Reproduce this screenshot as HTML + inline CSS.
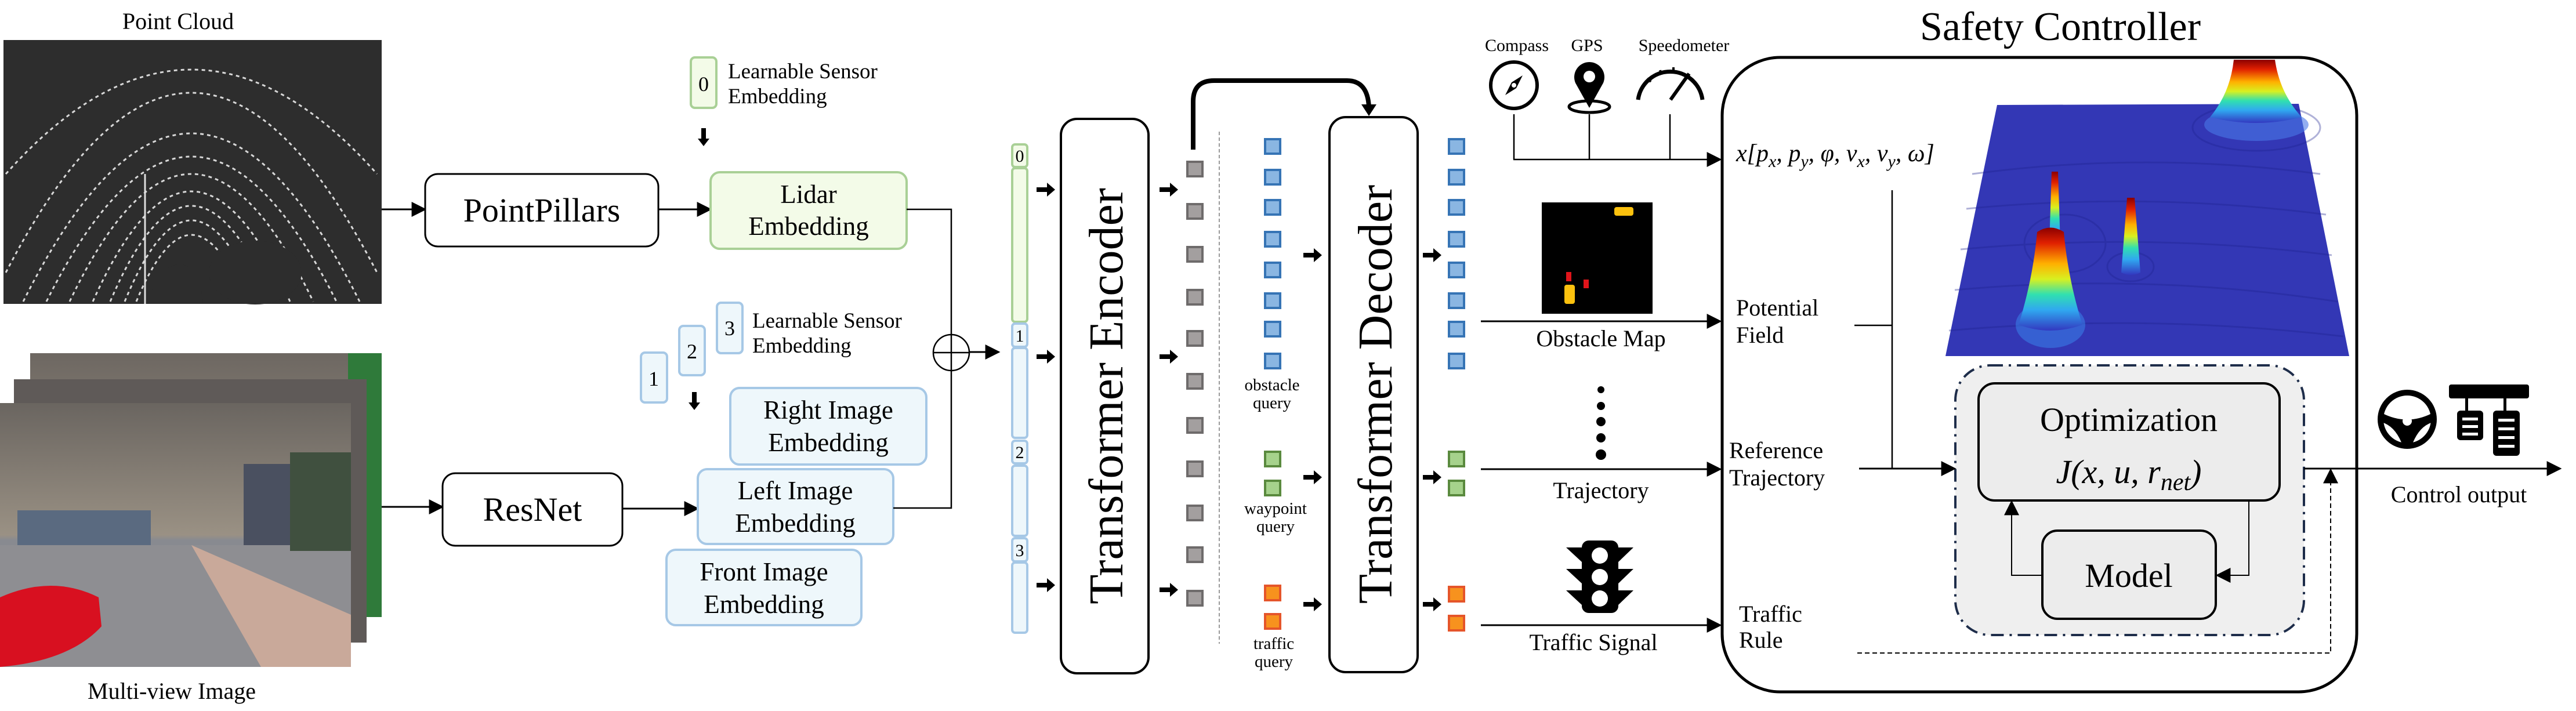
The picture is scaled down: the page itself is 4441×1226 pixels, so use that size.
<!DOCTYPE html>
<html><head><meta charset="utf-8"><style>
html,body{margin:0;padding:0;background:#fff;font-family:"Liberation Serif","Times New Roman",Times,"DejaVu Serif",serif;}
svg{display:block;}
svg text,svg tspan{font-family:"Liberation Serif","Times New Roman",Times,"DejaVu Serif",serif !important;}
</style></head><body>
<svg width="4441" height="1226" viewBox="0 0 4441 1226" xmlns="http://www.w3.org/2000/svg" style="font-family:'Liberation Serif','Times New Roman',Times,'DejaVu Serif',serif">
<defs>
<marker id="ahb" viewBox="0 0 10 10" refX="9" refY="5" markerWidth="26" markerHeight="26" markerUnits="userSpaceOnUse" orient="auto"><path d="M0,0L10,5L0,10z" fill="#000"/></marker>
<linearGradient id="peak" x1="0" y1="0" x2="0" y2="1">
<stop offset="0" stop-color="#8b0000"/><stop offset="0.15" stop-color="#e02000"/><stop offset="0.35" stop-color="#ffb000"/><stop offset="0.5" stop-color="#d8f020"/><stop offset="0.65" stop-color="#30e0b0"/><stop offset="0.8" stop-color="#30a8f0"/><stop offset="1" stop-color="#3238c0"/></linearGradient>
<linearGradient id="sky" x1="0" y1="0" x2="0" y2="1"><stop offset="0" stop-color="#6a6560"/><stop offset="0.5" stop-color="#9a9184"/><stop offset="0.52" stop-color="#888a90"/><stop offset="1" stop-color="#9a9a9e"/></linearGradient>
</defs>

<text x="307" y="50" font-size="40" text-anchor="middle">Point Cloud</text>
<rect x="6" y="69" width="652" height="455" fill="#2d2d2d"/>
<g fill="none" stroke="#d8d8d8" stroke-width="3" stroke-dasharray="6 6">
<path d="M40,520 Q330,-60 620,520"/><path d="M80,520 Q330,20 580,520"/><path d="M120,520 Q330,80 540,520"/><path d="M160,520 Q330,140 500,520"/><path d="M190,520 Q330,190 470,520"/><path d="M215,520 Q330,240 445,520"/><path d="M235,520 Q330,290 425,520"/><path d="M10,470 Q330,-150 650,470"/><path d="M10,300 Q330,-60 650,300"/>
</g>
<path d="M255,524 Q270,460 310,455 Q345,460 350,524z" fill="#2d2d2d"/>
<ellipse cx="440" cy="470" rx="80" ry="55" fill="#2d2d2d"/>
<line x1="250" y1="300" x2="250" y2="524" stroke="#ddd" stroke-width="3"/>

<rect x="52" y="609" width="606" height="455" fill="#7a7068"/>
<rect x="52" y="609" width="606" height="455" fill="url(#sky)" opacity="0.8"/>
<rect x="600" y="609" width="58" height="455" fill="#2f7a3a"/>
<rect x="24" y="654" width="608" height="454" fill="#5f5a58"/>
<rect x="0" y="695" width="605" height="455" fill="url(#sky)"/>
<path d="M0,940 L605,940 L605,1150 L0,1150z" fill="#8e8e92"/>
<path d="M330,940 L605,1060 L605,1150 L450,1150z" fill="#c9a99a"/>
<rect x="420" y="800" width="90" height="140" fill="#4a5060"/>
<rect x="500" y="780" width="105" height="170" fill="#40503f"/>
<rect x="30" y="880" width="230" height="60" fill="#5a6a80"/>
<path d="M0,1030 Q90,990 170,1030 L175,1080 Q120,1140 0,1150z" fill="#d81020"/>
<text x="296" y="1205" font-size="40" text-anchor="middle">Multi-view Image</text>

<line x1="658" y1="361" x2="733" y2="361" stroke="#000" stroke-width="3" marker-end="url(#ahb)"/>
<line x1="658" y1="874" x2="763" y2="874" stroke="#000" stroke-width="3" marker-end="url(#ahb)"/>

<rect x="733" y="300" width="402" height="125" rx="22" fill="#fff" stroke="#000" stroke-width="3"/>
<text x="934" y="382" font-size="58" text-anchor="middle">PointPillars</text>
<rect x="763" y="816" width="310" height="125" rx="22" fill="#fff" stroke="#000" stroke-width="3"/>
<text x="918" y="898" font-size="58" text-anchor="middle">ResNet</text>

<line x1="1135" y1="361" x2="1225" y2="361" stroke="#000" stroke-width="3" marker-end="url(#ahb)"/>
<line x1="1073" y1="877" x2="1203" y2="877" stroke="#000" stroke-width="3" marker-end="url(#ahb)"/>

<rect x="1191" y="99" width="44" height="87" rx="7" fill="#f3fbe8" stroke="#a9d096" stroke-width="4"/>
<text x="1213" y="157" font-size="36" text-anchor="middle">0</text>
<text x="1255" y="135" font-size="37">Learnable Sensor</text>
<text x="1255" y="178" font-size="37">Embedding</text>
<path d="M1209,221 h8 v18 h6 l-10,13 l-10,-13 h6z" fill="#000"/>
<rect x="1225" y="297" width="338" height="132" rx="16" fill="#f3fbe8" stroke="#a9d096" stroke-width="4"/>
<text x="1394" y="350" font-size="45" text-anchor="middle">Lidar</text>
<text x="1394" y="405" font-size="45" text-anchor="middle">Embedding</text>

<rect x="1105" y="608" width="45" height="86" rx="7" fill="#eef7fb" stroke="#a6c8e6" stroke-width="4"/>
<text x="1127" y="665" font-size="36" text-anchor="middle">1</text>
<rect x="1171" y="562" width="44" height="85" rx="7" fill="#eef7fb" stroke="#a6c8e6" stroke-width="4"/>
<text x="1193" y="618" font-size="36" text-anchor="middle">2</text>
<rect x="1236" y="522" width="44" height="87" rx="7" fill="#eef7fb" stroke="#a6c8e6" stroke-width="4"/>
<text x="1258" y="578" font-size="36" text-anchor="middle">3</text>
<text x="1297" y="565" font-size="37">Learnable Sensor</text>
<text x="1297" y="608" font-size="37">Embedding</text>
<path d="M1193,676 h8 v18 h6 l-10,13 l-10,-13 h6z" fill="#000"/>
<rect x="1259" y="669" width="338" height="132" rx="16" fill="#eef7fb" stroke="#a6c8e6" stroke-width="4"/>
<text x="1428" y="722" font-size="45" text-anchor="middle">Right Image</text>
<text x="1428" y="778" font-size="45" text-anchor="middle">Embedding</text>
<rect x="1203" y="809" width="337" height="129" rx="16" fill="#eef7fb" stroke="#a6c8e6" stroke-width="4"/>
<text x="1371" y="861" font-size="45" text-anchor="middle">Left Image</text>
<text x="1371" y="917" font-size="45" text-anchor="middle">Embedding</text>
<rect x="1149" y="948" width="336" height="130" rx="16" fill="#eef7fb" stroke="#a6c8e6" stroke-width="4"/>
<text x="1317" y="1001" font-size="45" text-anchor="middle">Front Image</text>
<text x="1317" y="1057" font-size="45" text-anchor="middle">Embedding</text>

<polyline points="1563,361 1640,361 1640,577" fill="none" stroke="#000" stroke-width="2.5"/>
<polyline points="1540,876 1640,876 1640,639" fill="none" stroke="#000" stroke-width="2.5"/>
<circle cx="1640" cy="608" r="31" fill="none" stroke="#000" stroke-width="2.5"/>
<line x1="1609" y1="608" x2="1671" y2="608" stroke="#000" stroke-width="2.5"/>
<line x1="1640" y1="577" x2="1640" y2="639" stroke="#000" stroke-width="2.5"/>
<line x1="1671" y1="607" x2="1722" y2="607" stroke="#000" stroke-width="3" marker-end="url(#ahb)"/>

<g stroke-width="4">
<rect x="1745" y="249" width="26" height="39" rx="5" fill="#f3fbe8" stroke="#a9d096"/>
<rect x="1745" y="290" width="26" height="265" rx="5" fill="#f3fbe8" stroke="#a9d096"/>
<rect x="1745" y="558" width="26" height="40" rx="5" fill="#eef7fb" stroke="#a6c8e6"/>
<rect x="1745" y="600" width="26" height="155" rx="5" fill="#eef7fb" stroke="#a6c8e6"/>
<rect x="1745" y="760" width="26" height="39" rx="5" fill="#eef7fb" stroke="#a6c8e6"/>
<rect x="1745" y="803" width="26" height="121" rx="5" fill="#eef7fb" stroke="#a6c8e6"/>
<rect x="1745" y="928" width="26" height="40" rx="5" fill="#eef7fb" stroke="#a6c8e6"/>
<rect x="1745" y="970" width="26" height="121" rx="5" fill="#eef7fb" stroke="#a6c8e6"/>
</g>
<g font-size="30" text-anchor="middle"><text x="1758" y="279">0</text><text x="1758" y="589">1</text><text x="1758" y="790">2</text><text x="1758" y="959">3</text></g>

<g fill="#000">
<path d="M0,-4 h18 v-8 l14,12 l-14,12 v-8 h-18z" transform="translate(1787,327)"/>
<path d="M0,-4 h18 v-8 l14,12 l-14,12 v-8 h-18z" transform="translate(1787,615)"/>
<path d="M0,-4 h18 v-8 l14,12 l-14,12 v-8 h-18z" transform="translate(1787,1009)"/>
<path d="M0,-4 h18 v-8 l14,12 l-14,12 v-8 h-18z" transform="translate(1999,327)"/>
<path d="M0,-4 h18 v-8 l14,12 l-14,12 v-8 h-18z" transform="translate(1999,615)"/>
<path d="M0,-4 h18 v-8 l14,12 l-14,12 v-8 h-18z" transform="translate(1999,1017)"/>
<path d="M0,-4 h18 v-8 l14,12 l-14,12 v-8 h-18z" transform="translate(2247,440)"/>
<path d="M0,-4 h18 v-8 l14,12 l-14,12 v-8 h-18z" transform="translate(2247,823)"/>
<path d="M0,-4 h18 v-8 l14,12 l-14,12 v-8 h-18z" transform="translate(2247,1042)"/>
<path d="M0,-4 h18 v-8 l14,12 l-14,12 v-8 h-18z" transform="translate(2453,440)"/>
<path d="M0,-4 h18 v-8 l14,12 l-14,12 v-8 h-18z" transform="translate(2453,823)"/>
<path d="M0,-4 h18 v-8 l14,12 l-14,12 v-8 h-18z" transform="translate(2453,1042)"/>
</g>

<rect x="1829" y="205" width="151" height="956" rx="28" fill="#fff" stroke="#000" stroke-width="4"/>
<text transform="translate(1935,683) rotate(-90)" font-size="84" text-anchor="middle">Transformer Encoder</text>
<rect x="2292" y="202" width="152" height="957" rx="28" fill="#fff" stroke="#000" stroke-width="4"/>
<text transform="translate(2399,680) rotate(-90)" font-size="84" text-anchor="middle">Transformer Decoder</text>

<g fill="#a39f9f" stroke="#6e6b6b" stroke-width="4">
<rect x="2047" y="279" width="26" height="25"/><rect x="2047" y="352" width="26" height="25"/><rect x="2047" y="426" width="26" height="25"/><rect x="2047" y="500" width="26" height="25"/><rect x="2047" y="571" width="26" height="25"/><rect x="2047" y="645" width="26" height="25"/><rect x="2047" y="721" width="26" height="25"/><rect x="2047" y="796" width="26" height="25"/><rect x="2047" y="872" width="26" height="25"/><rect x="2047" y="944" width="26" height="25"/><rect x="2047" y="1019" width="26" height="25"/>
</g>
<path d="M2057,258 V175 Q2057,139 2093,139 H2322 Q2358,139 2360,185" fill="none" stroke="#000" stroke-width="8"/>
<path d="M2347,180 L2373,180 L2360,200z" fill="#000"/>
<line x1="2102" y1="227" x2="2102" y2="1110" stroke="#999" stroke-width="2" stroke-dasharray="6 4"/>

<g fill="#8ab6e2" stroke="#3674b5" stroke-width="4">
<rect x="2181" y="240" width="26" height="25"/><rect x="2181" y="293" width="26" height="25"/><rect x="2181" y="345" width="26" height="25"/><rect x="2181" y="400" width="26" height="25"/><rect x="2181" y="453" width="26" height="25"/><rect x="2181" y="506" width="26" height="25"/><rect x="2181" y="555" width="26" height="25"/><rect x="2181" y="610" width="26" height="25"/>
<rect x="2498" y="240" width="26" height="25"/><rect x="2498" y="293" width="26" height="25"/><rect x="2498" y="345" width="26" height="25"/><rect x="2498" y="400" width="26" height="25"/><rect x="2498" y="453" width="26" height="25"/><rect x="2498" y="506" width="26" height="25"/><rect x="2498" y="555" width="26" height="25"/><rect x="2498" y="610" width="26" height="25"/>
</g>
<g fill="#a6d28c" stroke="#5a8a3e" stroke-width="4">
<rect x="2181" y="779" width="26" height="25"/><rect x="2181" y="829" width="26" height="25"/>
<rect x="2498" y="779" width="26" height="25"/><rect x="2498" y="829" width="26" height="25"/>
</g>
<g fill="#f7921e" stroke="#e5552a" stroke-width="4">
<rect x="2181" y="1010" width="26" height="25"/><rect x="2181" y="1059" width="26" height="25"/>
<rect x="2498" y="1012" width="26" height="25"/><rect x="2498" y="1062" width="26" height="25"/>
</g>
<g font-size="29" text-anchor="middle">
<text x="2193" y="673">obstacle</text><text x="2193" y="704">query</text>
<text x="2199" y="886">waypoint</text><text x="2199" y="917">query</text>
<text x="2196" y="1119">traffic</text><text x="2196" y="1150">query</text>
</g>

<g font-size="30" text-anchor="middle"><text x="2615" y="88">Compass</text><text x="2736" y="88">GPS</text><text x="2903" y="88">Speedometer</text></g>
<circle cx="2610" cy="147" r="40" fill="none" stroke="#000" stroke-width="6"/>
<path d="M2625,130 L2614,152 L2595,164 L2606,142z" fill="#000"/>
<circle cx="2610" cy="147" r="4" fill="#fff"/>
<ellipse cx="2740" cy="184" rx="35" ry="10" fill="none" stroke="#000" stroke-width="5"/>
<path d="M2740,186 L2716,143 A26,26 0 1 1 2764,143z" fill="#000"/>
<circle cx="2740" cy="132" r="10" fill="#fff"/>
<path d="M2824,172 A56,56 0 0 1 2935,172" fill="none" stroke="#000" stroke-width="7"/>
<line x1="2880" y1="172" x2="2912" y2="127" stroke="#000" stroke-width="6"/>
<g stroke="#000" stroke-width="4"><line x1="2840" y1="135" x2="2846" y2="141"/><line x1="2862" y1="121" x2="2864" y2="129"/><line x1="2885" y1="116" x2="2885" y2="124"/></g>
<line x1="2610" y1="197" x2="2610" y2="275" stroke="#000" stroke-width="2.5"/>
<line x1="2740" y1="197" x2="2740" y2="275" stroke="#000" stroke-width="2.5"/>
<line x1="2879" y1="197" x2="2879" y2="275" stroke="#000" stroke-width="2.5"/>
<line x1="2609" y1="275" x2="2966" y2="275" stroke="#000" stroke-width="2.5" marker-end="url(#ahb)"/>

<rect x="2658" y="349" width="191" height="192" fill="#000"/>
<rect x="2783" y="357" width="33" height="15" rx="4" fill="#fcc10e"/>
<rect x="2700" y="469" width="9" height="16" fill="#e0141a"/>
<rect x="2730" y="482" width="9" height="15" fill="#e0141a"/>
<rect x="2697" y="491" width="18" height="33" rx="4" fill="#fcc10e"/>
<line x1="2553" y1="554" x2="2966" y2="554" stroke="#000" stroke-width="3" marker-end="url(#ahb)"/>
<text x="2760" y="597" font-size="40" text-anchor="middle">Obstacle Map</text>
<g fill="#000"><circle cx="2760" cy="672" r="6"/><circle cx="2760" cy="700" r="7"/><circle cx="2760" cy="727" r="8"/><circle cx="2760" cy="755" r="8"/><circle cx="2760" cy="784" r="9"/></g>
<line x1="2553" y1="809" x2="2966" y2="809" stroke="#000" stroke-width="3" marker-end="url(#ahb)"/>
<text x="2760" y="859" font-size="40" text-anchor="middle">Trajectory</text>
<rect x="2727" y="932" width="63" height="125" rx="12" fill="#000"/>
<g fill="#000"><path d="M2700,944 h27 v25z"/><path d="M2700,981 h27 v25z"/><path d="M2700,1018 h27 v25z"/><path d="M2816,944 h-26 v25z"/><path d="M2816,981 h-26 v25z"/><path d="M2816,1018 h-26 v25z"/></g>
<g fill="#fff"><circle cx="2758" cy="958" r="14"/><circle cx="2758" cy="995" r="14"/><circle cx="2758" cy="1032" r="14"/></g>
<line x1="2553" y1="1078" x2="2966" y2="1078" stroke="#000" stroke-width="3" marker-end="url(#ahb)"/>
<text x="2747" y="1121" font-size="40" text-anchor="middle">Traffic Signal</text>

<text x="3552" y="69" font-size="70" text-anchor="middle">Safety Controller</text>
<rect x="2969" y="99" width="1094" height="1094" rx="100" fill="#fff" stroke="#000" stroke-width="5"/>
<polygon points="3443,181 3963,179 4050,614 3354,614" fill="#3337b5"/>
<g fill="none" stroke="#1e2290" stroke-width="3" opacity="0.35">
<path d="M3400,300 Q3700,260 4000,300"/><path d="M3390,360 Q3700,330 4010,370"/><path d="M3380,430 Q3700,400 4020,440"/><path d="M3370,500 Q3700,470 4030,520"/><path d="M3360,570 Q3700,540 4040,580"/>
<ellipse cx="3890" cy="220" rx="110" ry="40"/><ellipse cx="3673" cy="460" rx="40" ry="25"/><ellipse cx="3560" cy="420" rx="70" ry="50"/>
</g>
<ellipse cx="3890" cy="215" rx="90" ry="28" fill="#4a78e8" opacity="0.6"/>
<path d="M3851,103 H3922 Q3930,160 3968,202 Q3890,222 3810,202 Q3845,160 3851,103z" fill="url(#peak)"/>
<ellipse cx="3535" cy="560" rx="60" ry="40" fill="#3a8af0" opacity="0.5"/>
<path d="M3537,296 H3548 L3552,420 H3533z" fill="url(#peak)"/>
<path d="M3512,400 Q3535,385 3558,400 Q3565,480 3590,560 Q3535,580 3480,560 Q3505,480 3512,400z" fill="url(#peak)"/>
<path d="M3667,341 H3680 L3690,470 Q3673,478 3657,470z" fill="url(#peak)"/>

<text x="2993" y="278" font-size="42" font-style="italic">x[p<tspan font-size="30" dy="10">x</tspan><tspan dy="-10">, p</tspan><tspan font-size="30" dy="10">y</tspan><tspan dy="-10">, φ, v</tspan><tspan font-size="30" dy="10">x</tspan><tspan dy="-10">, v</tspan><tspan font-size="30" dy="10">y</tspan><tspan dy="-10">, ω]</tspan></text>
<g font-size="40"><text x="2993" y="544">Potential</text><text x="2993" y="591">Field</text>
<text x="2981" y="790">Reference</text><text x="2981" y="837">Trajectory</text>
<text x="2998" y="1072">Traffic</text><text x="2998" y="1117">Rule</text></g>
<line x1="3262" y1="328" x2="3262" y2="808" stroke="#000" stroke-width="2.5"/>
<line x1="3197" y1="561" x2="3262" y2="561" stroke="#000" stroke-width="2.5"/>

<rect x="3371" y="630" width="601" height="465" rx="60" fill="#efefef" stroke="#1e2d4a" stroke-width="4" stroke-dasharray="22 10 4 10"/>
<line x1="3205" y1="808" x2="3370" y2="808" stroke="#000" stroke-width="3" marker-end="url(#ahb)"/>
<rect x="3411" y="661" width="519" height="202" rx="28" fill="#ececec" stroke="#000" stroke-width="4"/>
<text x="3670" y="743" font-size="58" text-anchor="middle">Optimization</text>
<text x="3670" y="833" font-size="58" text-anchor="middle" font-style="italic">J(x, u, r<tspan font-size="42" dy="12">net</tspan><tspan dy="-12">)</tspan></text>
<rect x="3521" y="915" width="299" height="152" rx="26" fill="#ececec" stroke="#000" stroke-width="4"/>
<text x="3670" y="1012" font-size="58" text-anchor="middle">Model</text>
<polyline points="3877,863 3877,992 3822,992" fill="none" stroke="#000" stroke-width="2" marker-end="url(#ahb)"/>
<polyline points="3521,992 3468,992 3468,865" fill="none" stroke="#000" stroke-width="2" marker-end="url(#ahb)"/>
<polyline points="3202,1126 4018,1126 4018,810" fill="none" stroke="#000" stroke-width="2" stroke-dasharray="8 5" marker-end="url(#ahb)"/>
<line x1="3972" y1="808" x2="4414" y2="808" stroke="#000" stroke-width="3" marker-end="url(#ahb)"/>
<text x="4239" y="866" font-size="40" text-anchor="middle">Control output</text>
<circle cx="4150" cy="723" r="46" fill="none" stroke="#000" stroke-width="10"/>
<path d="M4106,712 Q4150,735 4194,712 L4194,728 Q4170,735 4158,768 H4142 Q4130,735 4106,728z" fill="#000"/>
<circle cx="4150" cy="726" r="8" fill="#fff"/>
<rect x="4222" y="663" width="138" height="24" rx="4" fill="#000"/>
<rect x="4250" y="687" width="5" height="22" fill="#000"/><rect x="4316" y="687" width="5" height="22" fill="#000"/>
<rect x="4236" y="708" width="45" height="51" rx="6" fill="#000"/>
<rect x="4298" y="708" width="46" height="78" rx="6" fill="#000"/>
<g fill="#fff"><rect x="4245" y="720" width="27" height="5"/><rect x="4245" y="733" width="27" height="5"/><rect x="4245" y="746" width="27" height="5"/>
<rect x="4307" y="722" width="28" height="5"/><rect x="4307" y="737" width="28" height="5"/><rect x="4307" y="752" width="28" height="5"/><rect x="4307" y="767" width="28" height="5"/></g>
</svg>
</body></html>
